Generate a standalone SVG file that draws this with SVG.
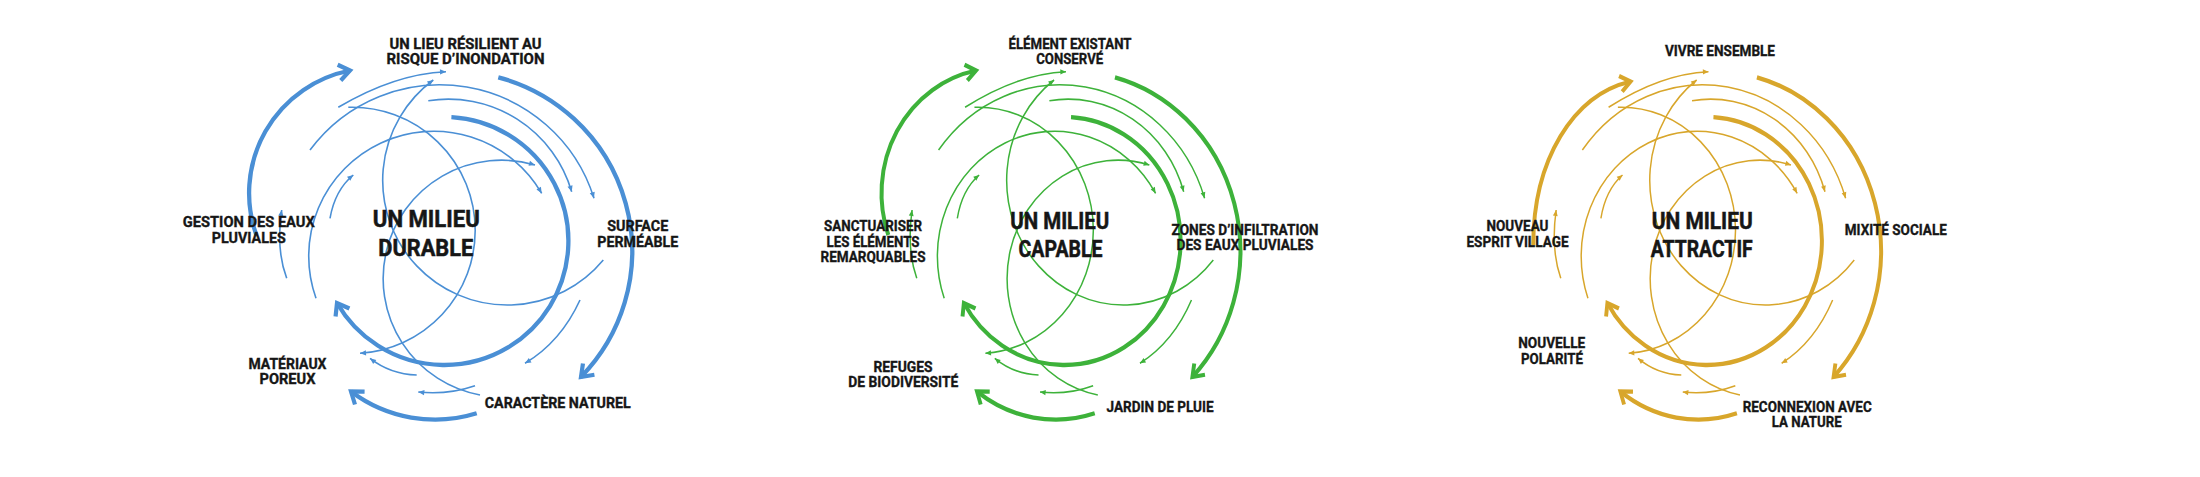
<svg xmlns="http://www.w3.org/2000/svg" width="2200" height="477" viewBox="0 0 2200 477">
<style>
.bg{fill:#ffffff}
.lbl{font-family:Roboto,"Liberation Sans",sans-serif;font-weight:700;font-size:15.5px;fill:#161616;stroke:#161616;stroke-width:0.35;text-anchor:middle}
.ttl{font-size:23px;stroke-width:0.5}
.thin{fill:none;stroke-width:1.6}
.thick{fill:none;stroke-width:4.3;stroke-linecap:butt}
.blue .thin{stroke:#4a8fd5;marker-end:url(#tb)}
.blue .thick{stroke:#4a8fd5;marker-end:url(#kb)}
.green .thin{stroke:#3db23a;marker-end:url(#tg)}
.green .thick{stroke:#3db23a;marker-end:url(#kg)}
.yellow .thin{stroke:#d8a62b;marker-end:url(#ty)}
.yellow .thick{stroke:#d8a62b;marker-end:url(#ky)}
</style>
<defs>
<marker id="tb" markerUnits="userSpaceOnUse" orient="auto" markerWidth="20" markerHeight="20" refX="0" refY="0" overflow="visible"><path d="M0,0 L-6,-2.6 L-6,2.6 Z" fill="#4a8fd5"/></marker>
<marker id="tg" markerUnits="userSpaceOnUse" orient="auto" markerWidth="20" markerHeight="20" refX="0" refY="0" overflow="visible"><path d="M0,0 L-6,-2.6 L-6,2.6 Z" fill="#3db23a"/></marker>
<marker id="ty" markerUnits="userSpaceOnUse" orient="auto" markerWidth="20" markerHeight="20" refX="0" refY="0" overflow="visible"><path d="M0,0 L-6,-2.6 L-6,2.6 Z" fill="#d8a62b"/></marker>
<marker id="kb" markerUnits="userSpaceOnUse" orient="auto" markerWidth="30" markerHeight="30" refX="0" refY="0" overflow="visible"><path d="M-11,-8 L0,0 L-11,8" fill="none" stroke="#4a8fd5" stroke-width="4.2"/></marker>
<marker id="kg" markerUnits="userSpaceOnUse" orient="auto" markerWidth="30" markerHeight="30" refX="0" refY="0" overflow="visible"><path d="M-11,-8 L0,0 L-11,8" fill="none" stroke="#3db23a" stroke-width="4.2"/></marker>
<marker id="ky" markerUnits="userSpaceOnUse" orient="auto" markerWidth="30" markerHeight="30" refX="0" refY="0" overflow="visible"><path d="M-11,-8 L0,0 L-11,8" fill="none" stroke="#d8a62b" stroke-width="4.2"/></marker>
</defs>
<rect class="bg" x="0" y="0" width="2200" height="477"/>

<!-- Panel 1: durable -->
<g id="connectors-durable" class="blue">
<path class="thick" d="M256.3,235 A125,125 0 0 1 350,70.5"/>
<path class="thick" d="M498.3,77.3 A180,180 0 0 1 581,377"/>
<path class="thick" d="M476.7,413.3 A140,140 0 0 1 351,391.5"/>
<path class="thick" d="M451.4,117.2 A124,124 0 1 1 337,303"/>
<path class="thin" d="M338.3,107.3 Q394.5,73.9 446,71.7"/>
<path class="thin" d="M310,150 A161.6,161.6 0 0 1 594,198.3"/>
<path class="thin" d="M428.3,100.7 A128.6,128.6 0 0 1 571.7,191.7"/>
<path class="thin" d="M316,298.3 A125,125 0 0 1 541.7,193.3"/>
<path class="thin" d="M286.7,278.3 Q275.8,249.3 281.7,210"/>
<path class="thin" d="M330,218.3 Q335,190 353.3,175"/>
<path class="thin" d="M348.3,107.3 A123,123 0 0 1 475.2,230 A123,123 0 0 1 360,353.3"/>
<path class="thin" d="M603.3,260 A124.7,124.7 0 1 1 433.3,80"/>
<path class="thin" d="M480,395 A118.4,118.4 0 1 1 535,165"/>
<path class="thin" d="M580,300 Q560.9,341.8 525,363.3"/>
<path class="thin" d="M416.7,375 Q390.6,374.2 370,358.3"/>
<path class="thin" d="M475,385.7 Q447.3,395.2 418.3,392"/>
</g>

<!-- Panel 2: capable -->
<g id="connectors-capable" class="green" transform="translate(648.2,0) scale(0.9367,1)">
<path class="thick" d="M256.3,235 A125,125 0 0 1 350,70.5"/>
<path class="thick" d="M498.3,77.3 A180,180 0 0 1 581,377"/>
<path class="thick" d="M476.7,413.3 A140,140 0 0 1 351,391.5"/>
<path class="thick" d="M451.4,117.2 A124,124 0 1 1 337,303"/>
<path class="thin" d="M338.3,107.3 Q394.5,73.9 446,71.7"/>
<path class="thin" d="M310,150 A161.6,161.6 0 0 1 594,198.3"/>
<path class="thin" d="M428.3,100.7 A128.6,128.6 0 0 1 571.7,191.7"/>
<path class="thin" d="M316,298.3 A125,125 0 0 1 541.7,193.3"/>
<path class="thin" d="M286.7,278.3 Q275.8,249.3 281.7,210"/>
<path class="thin" d="M330,218.3 Q335,190 353.3,175"/>
<path class="thin" d="M348.3,107.3 A123,123 0 0 1 475.2,230 A123,123 0 0 1 360,353.3"/>
<path class="thin" d="M603.3,260 A124.7,124.7 0 1 1 433.3,80"/>
<path class="thin" d="M480,395 A118.4,118.4 0 1 1 535,165"/>
<path class="thin" d="M580,300 Q560.9,341.8 525,363.3"/>
<path class="thin" d="M416.7,375 Q390.6,374.2 370,358.3"/>
<path class="thin" d="M475,385.7 Q447.3,395.2 418.3,392"/>
</g>

<!-- Panel 3: attractif -->
<g id="connectors-attractif" class="yellow" transform="translate(1295,0) scale(0.927,1)">
<path class="thick" d="M257,245 C257,160 300,95 362,81.5"/>
<path class="thick" d="M498.3,77.3 A180,180 0 0 1 581,377"/>
<path class="thick" d="M476.7,413.3 A140,140 0 0 1 351,391.5"/>
<path class="thick" d="M451.4,117.2 A124,124 0 1 1 337,303"/>
<path class="thin" d="M338.3,107.3 Q394.5,73.9 446,71.7"/>
<path class="thin" d="M310,150 A161.6,161.6 0 0 1 594,198.3"/>
<path class="thin" d="M428.3,100.7 A128.6,128.6 0 0 1 571.7,191.7"/>
<path class="thin" d="M316,298.3 A125,125 0 0 1 541.7,193.3"/>
<path class="thin" d="M286.7,278.3 Q275.8,249.3 281.7,210"/>
<path class="thin" d="M330,218.3 Q335,190 353.3,175"/>
<path class="thin" d="M348.3,107.3 A123,123 0 0 1 475.2,230 A123,123 0 0 1 360,353.3"/>
<path class="thin" d="M603.3,260 A124.7,124.7 0 1 1 433.3,80"/>
<path class="thin" d="M480,395 A118.4,118.4 0 1 1 535,165"/>
<path class="thin" d="M580,300 Q560.9,341.8 525,363.3"/>
<path class="thin" d="M416.7,375 Q390.6,374.2 370,358.3"/>
<path class="thin" d="M475,385.7 Q447.3,395.2 418.3,392"/>
</g>

<!-- Labels: durable -->
<g id="durable-center"><text class="lbl ttl" x="426.3" y="227.3" textLength="107" lengthAdjust="spacingAndGlyphs">UN MILIEU</text><text class="lbl ttl" x="425.8" y="255.7" textLength="95" lengthAdjust="spacingAndGlyphs">DURABLE</text></g>
<g id="durable-resilient"><text class="lbl" x="465.5" y="49.3" textLength="152" lengthAdjust="spacingAndGlyphs">UN LIEU RÉSILIENT AU</text><text class="lbl" x="465.5" y="64.3" textLength="158" lengthAdjust="spacingAndGlyphs">RISQUE D’INONDATION</text></g>
<g id="durable-gestion"><text class="lbl" x="248.8" y="227.3" textLength="132" lengthAdjust="spacingAndGlyphs">GESTION DES EAUX</text><text class="lbl" x="248.8" y="242.7" textLength="74" lengthAdjust="spacingAndGlyphs">PLUVIALES</text></g>
<g id="durable-surface"><text class="lbl" x="637.8" y="230.7" textLength="61" lengthAdjust="spacingAndGlyphs">SURFACE</text><text class="lbl" x="637.8" y="246.7" textLength="81" lengthAdjust="spacingAndGlyphs">PERMÉABLE</text></g>
<g id="durable-materiaux"><text class="lbl" x="287.5" y="368.5" textLength="78" lengthAdjust="spacingAndGlyphs">MATÉRIAUX</text><text class="lbl" x="287.5" y="384" textLength="56" lengthAdjust="spacingAndGlyphs">POREUX</text></g>
<g id="durable-caractere"><text class="lbl" x="557.8" y="408.3" textLength="146" lengthAdjust="spacingAndGlyphs">CARACTÈRE NATUREL</text></g>

<!-- Labels: capable -->
<g id="capable-center"><text class="lbl ttl" x="1059.7" y="229.3" textLength="99" lengthAdjust="spacingAndGlyphs">UN MILIEU</text><text class="lbl ttl" x="1060.5" y="256.7" textLength="84" lengthAdjust="spacingAndGlyphs">CAPABLE</text></g>
<g id="capable-element"><text class="lbl" x="1070" y="49.3" textLength="123" lengthAdjust="spacingAndGlyphs">ÉLÉMENT EXISTANT</text><text class="lbl" x="1069.7" y="64.3" textLength="67" lengthAdjust="spacingAndGlyphs">CONSERVÉ</text></g>
<g id="capable-sanctuariser"><text class="lbl" x="873" y="230.7" textLength="98" lengthAdjust="spacingAndGlyphs">SANCTUARISER</text><text class="lbl" x="873" y="246.7" textLength="93" lengthAdjust="spacingAndGlyphs">LES ÉLÉMENTS</text><text class="lbl" x="873" y="261.7" textLength="105" lengthAdjust="spacingAndGlyphs">REMARQUABLES</text></g>
<g id="capable-zones"><text class="lbl" x="1245" y="235" textLength="147" lengthAdjust="spacingAndGlyphs">ZONES D’INFILTRATION</text><text class="lbl" x="1245" y="250" textLength="137" lengthAdjust="spacingAndGlyphs">DES EAUX PLUVIALES</text></g>
<g id="capable-refuges"><text class="lbl" x="903" y="372.3" textLength="59" lengthAdjust="spacingAndGlyphs">REFUGES</text><text class="lbl" x="903.3" y="387.3" textLength="110" lengthAdjust="spacingAndGlyphs">DE BIODIVERSITÉ</text></g>
<g id="capable-jardin"><text class="lbl" x="1160" y="412.3" textLength="107" lengthAdjust="spacingAndGlyphs">JARDIN DE PLUIE</text></g>

<!-- Labels: attractif -->
<g id="attractif-center"><text class="lbl ttl" x="1702.2" y="229.3" textLength="101" lengthAdjust="spacingAndGlyphs">UN MILIEU</text><text class="lbl ttl" x="1701.7" y="256.7" textLength="102" lengthAdjust="spacingAndGlyphs">ATTRACTIF</text></g>
<g id="attractif-vivre"><text class="lbl" x="1720" y="56" textLength="110" lengthAdjust="spacingAndGlyphs">VIVRE ENSEMBLE</text></g>
<g id="attractif-esprit"><text class="lbl" x="1517.5" y="231" textLength="62" lengthAdjust="spacingAndGlyphs">NOUVEAU</text><text class="lbl" x="1517.5" y="246.7" textLength="102" lengthAdjust="spacingAndGlyphs">ESPRIT VILLAGE</text></g>
<g id="attractif-mixite"><text class="lbl" x="1895.8" y="235" textLength="102" lengthAdjust="spacingAndGlyphs">MIXITÉ SOCIALE</text></g>
<g id="attractif-polarite"><text class="lbl" x="1551.7" y="348.3" textLength="67" lengthAdjust="spacingAndGlyphs">NOUVELLE</text><text class="lbl" x="1552" y="364.3" textLength="62" lengthAdjust="spacingAndGlyphs">POLARITÉ</text></g>
<g id="attractif-nature"><text class="lbl" x="1807.2" y="411.7" textLength="129" lengthAdjust="spacingAndGlyphs">RECONNEXION AVEC</text><text class="lbl" x="1806.7" y="427.3" textLength="70" lengthAdjust="spacingAndGlyphs">LA NATURE</text></g>
</svg>
